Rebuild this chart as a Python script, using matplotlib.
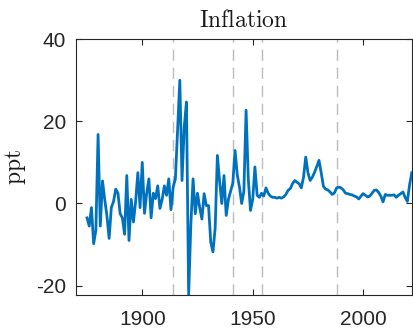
import numpy as np
import matplotlib
matplotlib.use("Agg")
import matplotlib.pyplot as plt

# annual inflation, ppt (1875-2022)
years = np.arange(1875, 2023)
inflation = [
    -3.5, -5.5, -1.0, -9.8, -6.5, 16.8, -5.5, 5.5, 1.0, -3.0,      # 1875-1884
    -8.5, -1.0, 0.5, 3.5, 2.5, -2.5, -3.5, -7.5, 6.8, -9.0,        # 1885-1894
    1.0, -4.5, 0.5, 7.5, -1.0, 10.0, -2.4, 2.5, 6.0, -3.5,         # 1895-1904
    2.5, 1.2, 4.3, -1.2, 1.0, 4.3, 2.0, 6.0, -1.5, 4.0,            # 1905-1914
    6.0, 17.8, 30.0, 5.6, 18.6, 24.7, -22.3, -5.0, 6.0, -2.5,      # 1915-1924
    2.5, -1.0, -3.8, 2.4, -0.5, -0.5, -9.4, -11.8, -6.0, 11.7,     # 1925-1934
    5.5, 0.0, 6.8, -2.9, 1.0, 3.0, 5.0, 12.9, 7.0, 4.0,            # 1935-1944
    0.0, 3.0, 22.7, 6.0, -1.7, 1.0, 8.9, 2.0, 1.5, 2.5,            # 1945-1954
    1.8, 3.8, 2.5, 1.8, 1.5, 1.5, 1.3, 1.5, 1.3, 1.6,              # 1955-1964
    2.2, 3.2, 3.6, 4.8, 5.6, 5.2, 4.8, 3.8, 6.4, 11.3,             # 1965-1974
    7.5, 5.6, 6.4, 7.6, 9.0, 10.5, 7.5, 4.2, 3.5, 3.3,             # 1975-1984
    2.8, 2.2, 2.6, 3.8, 4.0, 3.8, 3.3, 2.5, 2.4, 2.2,              # 1985-1994
    2.1, 1.8, 1.6, 1.1, 1.8, 2.4, 2.0, 1.6, 1.8, 2.5,              # 1995-2004
    3.2, 3.3, 2.7, 1.8, 0.4, 2.2, 2.0, 2.0, 2.0, 2.1,              # 2005-2014
    1.5, 2.0, 2.4, 2.8, 1.5, 0.5, 4.5, 7.5,                        # 2015-2022
]
events = [1914, 1941, 1954, 1988]

xticks = [1900, 1950, 2000]
yticks = [-20, 0, 20, 40]

plt.rcParams['font.family'] = ['Liberation Sans', 'DejaVu Sans']
plt.rcParams['mathtext.fontset'] = 'cm'
plt.rcParams['axes.unicode_minus'] = False

fig = plt.figure(figsize=(4.13, 3.29), dpi=100)
ax = fig.add_axes([0.184, 0.103, 0.813, 0.778])

for yr in events:
    ax.axvline(yr, color='#bcbcbc', lw=1.0, ls=(0, (8, 5)), zorder=1)

ax.plot(years, inflation, color='#0072BD', lw=2.0, zorder=3)

ax.set_xlim(1870, 2022)
ax.set_ylim(-22.3, 40)
ax.set_xticks(xticks)
ax.set_yticks(yticks)

ax.tick_params(direction='in', length=4, width=0.8, colors='#262626',
               labelsize=15, top=True, right=True, pad=7)
ax.tick_params(axis='x', pad=11)
for s in ax.spines.values():
    s.set_color('#262626')
    s.set_linewidth(0.8)

ax.set_title(r'$\mathrm{Inflation}$', fontsize=17, pad=9, color='#1a1a1a')
ax.set_ylabel(r'$\mathrm{ppt}$', fontsize=17, labelpad=6, color='#1a1a1a')

fig.savefig('out.png', dpi=100)
